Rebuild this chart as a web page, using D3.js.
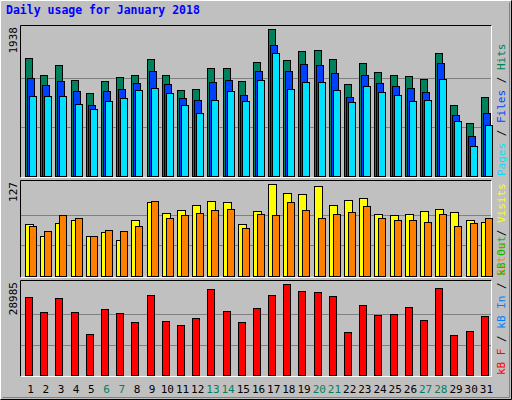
<!DOCTYPE html><html><head><meta charset="utf-8">
<script src="https://cdn.jsdelivr.net/npm/d3@7"></script>
<style>body{margin:0;background:#fff}</style></head><body><svg id="c" width="512" height="400"></svg>
<script>
const days=d3.range(1,32);
const weekends=[6,7,13,14,20,21,27,28];
const hits=[1555,1330,1462,1264,1092,1251,1304,1330,1542,1330,1132,1145,1423,1423,1251,1502,1938,1528,1647,1660,1542,1211,1489,1370,1330,1317,1277,1621,934,696,1039];
const files=[1291,1198,1251,1119,934,1119,1145,1224,1383,1211,1026,1000,1238,1264,1066,1383,1727,1383,1476,1462,1357,1039,1330,1224,1185,1158,1106,1489,802,524,828];
const pages=[1053,1053,1053,947,881,987,1026,1132,1158,1092,934,828,1000,1119,987,1264,1621,1145,1238,1238,1132,973,1185,1106,1066,987,1000,1277,722,392,669];
const visits=[72,55,73,77,55,61,50,77,102,87,91,98,104,102,72,90,127,115,113,124,98,105,108,86,84,86,90,92,88,77,75];
const sites=[69,62,84,80,55,63,62,69,104,80,84,87,91,92,66,86,84,102,91,80,86,88,97,80,77,77,75,86,69,73,80];
const kbytes=[24844,20066,24525,20066,13059,21022,19748,16881,25481,17200,15926,18155,27392,20385,16881,21340,25481,28985,26755,26437,25162,13696,22296,19111,19429,21659,17518,27711,12740,14015,18792];
const svg=d3.select("#c");
const F="DejaVu Sans Mono, monospace";
svg.append("rect").attr("width",512).attr("height",400).attr("fill","#c0c0c0");
svg.append("path").attr("d","M0.5,399.5V0.5H511.5").attr("fill","none").attr("stroke","#fff");
svg.append("path").attr("d","M0.5,399.5H511.5V0.5").attr("fill","none").attr("stroke","#000");
svg.append("path").attr("d","M2.5,397.5H509.5V2.5").attr("fill","none").attr("stroke","#808080");
svg.append("text").attr("x",6).attr("y",14).attr("font-family",F).attr("font-weight","bold").attr("font-size",11.5).attr("fill","#0000ff").text("Daily usage for January 2018");
const x=d3.scaleBand().domain(days).range([20,491]);
function panel(top,bottom,max,ylab,series,labels){
  const y=d3.scaleLinear().domain([0,max]).range([bottom,top+4]);
  svg.append("path").attr("d",`M20.5,${bottom+1.5}V${top+.5}H491.5`).attr("fill","none").attr("stroke","#000");
  svg.append("path").attr("d",`M20.5,${bottom+1.5}H491.5V${top+.5}`).attr("fill","none").attr("stroke","#fff");
  [1/3,2/3].forEach(f=>svg.append("line").attr("x1",21).attr("x2",491).attr("y1",Math.round(y(max*f))+.5).attr("y2",Math.round(y(max*f))+.5).attr("stroke","#808080"));
  series.forEach(s=>{
    svg.append("g").selectAll("rect").data(s.v).join("rect")
      .attr("x",(d,i)=>Math.round(x(days[i]))+s.off+.5).attr("width",s.w)
      .attr("y",d=>Math.round(y(d))+.5).attr("height",d=>bottom-Math.round(y(d)))
      .attr("fill",s.c).attr("stroke","#000");
  });
  svg.append("text").attr("transform",`translate(17,${top+2}) rotate(-90)`).attr("text-anchor","end")
    .attr("font-family",F).attr("font-size",11).attr("fill","#000").text(ylab);
  const t=svg.append("text").attr("transform",`translate(505,${bottom}) rotate(-90)`)
    .attr("font-family",F).attr("font-size",11);
  labels.forEach(l=>t.append("tspan").attr("fill",l[1]).text(l[0]));
}
panel(25,176,1938,"1938",[{v:hits,c:"#00805c",off:5,w:7},{v:files,c:"#0040ff",off:7,w:7},{v:pages,c:"#00e0ff",off:9,w:7}],
  [["Pages","#00e0ff"],[" / ","#000"],["Files","#0040ff"],[" / ","#000"],["Hits","#00805c"]]);
panel(180,276,127,"127",[{v:visits,c:"#ffff00",off:5,w:8},{v:sites,c:"#ff8000",off:9,w:7}],
  [["Sites","#ff8000"],[" / ","#000"],["Visits","#ffff00"]]);
panel(280,375,28985,"28985",[{v:kbytes,c:"#ff0000",off:5,w:7}],
  [["kB F","#ff0000"],[" / ","#000"],["kB In","#0080ff"],[" / ","#000"],["kB Out","#00c000"]]);
svg.append("g").selectAll("text").data(days).join("text")
  .attr("x",d=>x(d)+x.bandwidth()/2+3).attr("y",393).attr("text-anchor","middle")
  .attr("font-family",F).attr("font-size",11)
  .attr("fill",d=>weekends.includes(d)?"#00805c":"#000").text(d=>d);
</script></body></html>
